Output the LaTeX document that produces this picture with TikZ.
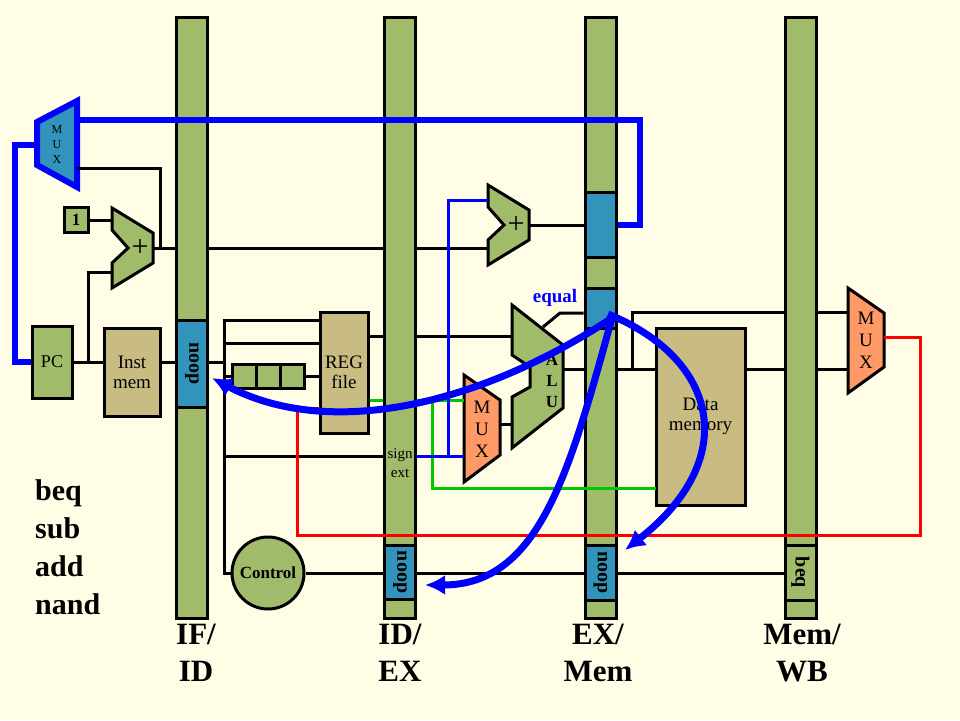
\documentclass[tikz,border=0pt]{standalone}
\usepackage{fontspec}
\setmainfont{Liberation Serif}
\usetikzlibrary{positioning, arrows.meta, calc}

\definecolor{bgyellow}{RGB}{255,253,230}
\definecolor{latchgreen}{RGB}{160,188,106}
\definecolor{boxblue}{RGB}{51,148,187}
\definecolor{memtan}{RGB}{200,188,130}
\definecolor{muxorange}{RGB}{255,153,102}
\definecolor{wireblue}{RGB}{0,0,255}
\definecolor{wirered}{RGB}{255,0,0}
\definecolor{wiregreen}{RGB}{0,200,0}

\begin{document}
\begin{tikzpicture}[x=1pt, y=-1pt,
        latch/.style={draw, line width=3pt, fill=latchgreen, minimum width=31pt, minimum height=601pt, anchor=north, inner sep=0pt},
        seg/.style={draw, line width=3pt, rotate=-90, minimum height=31pt, inner sep=0pt, font=\bfseries\fontsize{20}{20}\selectfont},
        unit/.style={draw, line width=3pt, inner sep=0pt, align=center, font=\fontsize{19}{20}\selectfont},
        part/.style={draw, line width=3pt},
        muxtext/.style={align=center, inner sep=0pt, font=\fontsize{19}{22}\selectfont},
        wire/.style={line width=3pt},
        gwire/.style={line width=3pt, wiregreen},
        bwire/.style={line width=3pt, wireblue},
        rwire/.style={line width=3pt, wirered},
        bus/.style={line width=6pt, wireblue},
        flush/.style={line width=7pt, wireblue, -{Latex[length=20pt, width=20pt]}},
        stage/.style={font=\bfseries\fontsize{31}{37}\selectfont, align=center, inner sep=0pt, anchor=north}]
    \path[use as bounding box, fill=bgyellow] (0,0) rectangle (960,720);

    % pipeline registers
    \node (ifid) [latch] at (192,16) {};
    \node (idex) [latch] at (400,16) {};
    \node (exmem) [latch] at (600.5,16) {};
    \node (memwb) [latch] at (800.5,16) {};
    \node (ifnoop) [seg, fill=boxblue, minimum width=87pt] at (192,363.5) {noop};
    \node (idnoop) [seg, fill=boxblue, minimum width=54pt] at (400,572) {noop};
    \node (exbr) [seg, fill=boxblue, minimum width=65pt] at (600.5,224.5) {};
    \node (exeq) [seg, fill=boxblue, minimum width=40pt] at (600.5,308) {};
    \node (exnoop) [seg, fill=boxblue, minimum width=55pt] at (600.5,572.5) {noop};
    \node (wbbeq) [seg, fill=latchgreen, minimum width=55pt] at (800.5,572.5) {beq};
    \node (sextlbl) [align=center, inner sep=0pt, font=\fontsize{15}{19}\selectfont] at (400,463.5) {sign\\ext};

    % fetch
    \node (pc) [unit, fill=latchgreen, minimum width=40pt, minimum height=72pt, font=\fontsize{18}{18}\selectfont] at (52,362) {PC};
    \node (imem) [unit, fill=memtan, minimum width=56pt, minimum height=88pt] at (132,372) {Inst\\mem};
    \node (one) [unit, fill=latchgreen, minimum width=24pt, minimum height=25pt, font=\bfseries\fontsize{17}{17}\selectfont] at (76,220) {1};
    \draw[part, fill=boxblue, draw=wireblue, line width=6pt] (37,122) -- (77,101) -- (77,187) -- (37,165) -- cycle;
    \node (mux0) [muxtext, font=\fontsize{12}{15}\selectfont] at (57,145) {M\\U\\X};
    \draw[part, fill=latchgreen] (112,208) -- (153,233) -- (153,263) -- (112,288) -- (112,263) -- (128,248) -- (112,230) -- cycle;
    \node (addif) [font=\fontsize{30}{30}\selectfont, inner sep=0pt] at (140,248) {+};

    % decode
    \node (regfile) [unit, fill=memtan, minimum width=48pt, minimum height=121pt] at (344,372.5) {REG\\file};
    \node (rc1) [unit, fill=latchgreen, minimum size=24pt] at (244,376) {};
    \node (rc2) [unit, fill=latchgreen, minimum size=24pt] at (268,376) {};
    \node (rc3) [unit, fill=latchgreen, minimum size=24pt] at (292,376) {};
    \node (control) [unit, circle, fill=latchgreen, minimum size=72pt, font=\bfseries\fontsize{17}{17}\selectfont] at (268,573) {Control};

    % execute
    \draw[part, fill=latchgreen] (488,185) -- (529,210) -- (529,240) -- (488,265) -- (488,240) -- (504,225) -- (488,207) -- cycle;
    \node (addex) [font=\fontsize{30}{30}\selectfont, inner sep=0pt] at (516,225) {+};
    \draw[part, fill=latchgreen] (512,305) -- (563,345) -- (563,408) -- (512,448) -- (512,397) -- (530,387) -- (530,367) -- (512,355) -- cycle;
    \node (alu) [muxtext, font=\bfseries\fontsize{17}{21}\selectfont] at (552,381) {A\\L\\U};
    \draw[part, fill=muxorange] (464,375) -- (500,400) -- (500,455) -- (464,482) -- cycle;
    \node (mux1) [muxtext] at (482,429) {M\\U\\X};

    % memory and write back
    \node (dmem) [unit, fill=memtan, minimum width=89pt, minimum height=177pt] at (700.5,416.5) {Data\\memory};
    \draw[part, fill=muxorange] (848,288) -- (884,313) -- (884,367) -- (848,393) -- cycle;
    \node (mux2) [muxtext] at (866,340) {M\\U\\X};

    \coordinate (mux0a) at (77,120);
    \coordinate (mux0b) at (77,168);
    \coordinate (mux0o) at (37,145);
    \coordinate (pcsplit) at (88,362);
    \coordinate (addifa) at (112,220);
    \coordinate (addifb) at (112,272);
    \coordinate (addifo) at (153,248);
    \coordinate (pcsel) at (160,248);
    \coordinate (idbus) at (224,362);
    \coordinate (rega) at (320,320);
    \coordinate (regb) at (320,343);
    \coordinate (regwr) at (320,408);
    \coordinate (rdata) at (368,336);
    \coordinate (sext) at (400,456);
    \coordinate (addexa) at (488,200);
    \coordinate (addexb) at (488,248);
    \coordinate (addexo) at (529,225);
    \coordinate (alua) at (512,336);
    \coordinate (alub) at (512,424);
    \coordinate (aluz) at (543,327);
    \coordinate (eq) at (560,313);
    \coordinate (aluo) at (563,369);
    \coordinate (mux1a) at (464,400);
    \coordinate (mux1b) at (464,456);
    \coordinate (mux1o) at (500,424);
    \coordinate (gsplit) at (432,400);
    \coordinate (bsplit) at (448,456);
    \coordinate (dmemw) at (656,488);
    \coordinate (fwsplit) at (632,369);
    \coordinate (mux2a) at (848,312);
    \coordinate (mux2b) at (848,369);
    \coordinate (mux2o) at (884,337);

    % black wires
    \draw[wire] (pc.east) -- (pc.east -| imem.west);
    \draw[wire] (pcsplit) |- (addifb);
    \draw[wire] (one.east) -- (addifa);
    \draw[wire] (addifo) -- (addifo -| ifid.west);
    \draw[wire] (pcsel) |- (mux0b);
    \draw[wire] (pc.east -| imem.east) -- (pc.east -| ifid.west);
    \draw[wire] (pc.east -| ifid.east) -- (idbus);
    \draw[wire] (rega) -| (idbus |- control.west) -- (control.west);
    \draw[wire] (regb) -- (regb -| idbus);
    \draw[wire] (idbus |- rc1.west) -- (rc1.west);
    \draw[wire] (rc3.east) -- (rc3.east -| regfile.west);
    \draw[wire] (idbus |- sext) -- (sext -| idex.west);
    \draw[wire] (rdata) -- (rdata -| idex.west);
    \draw[wire] (alua -| idex.east) -- (alua);
    \draw[wire] (addifo -| ifid.east) -- (addifo -| idex.west);
    \draw[wire] (addifo -| idex.east) -- (addexb);
    \draw[wire] (addexo) -- (addexo -| exmem.west);
    \draw[wire] (mux1o) -- (alub);
    \draw[wire] (aluz) -- (eq) -- (eq -| exmem.west);
    \draw[wire] (aluo) -- (aluo -| exmem.west);
    \draw[wire] (aluo -| exmem.east) -- (aluo -| dmem.west);
    \draw[wire] (fwsplit) |- (mux2a -| memwb.west);
    \draw[wire] (mux2a -| memwb.east) -- (mux2a);
    \draw[wire] (aluo -| dmem.east) -- (aluo -| memwb.west);
    \draw[wire] (aluo -| memwb.east) -- (mux2b);
    \draw[wire] (control.east) -- (control.east -| idex.west);
    \draw[wire] (control.east -| idex.east) -- (control.east -| exmem.west);
    \draw[wire] (control.east -| exmem.east) -- (control.east -| memwb.west);

    % coloured wires
    \draw[gwire] (regfile.east |- mux1a) -- (mux1a -| idex.west);
    \draw[gwire] (mux1a -| idex.east) -- (mux1a);
    \draw[gwire] (gsplit) |- (dmemw);
    \draw[bwire] (sext -| idex.east) -- (mux1b);
    \draw[bwire] (bsplit) |- (addexa);
    \draw[rwire] (regwr) -| (297,535) -| (920,337) -- (mux2o);
    \draw[bus] (mux0a) -- (640,120) |- (exmem.east |- addexo);
    \draw[bus] (mux0o) -- (15,145) |- (pc.west);

    % flush arrows
    \coordinate (fwd) at (612,318);
    \coordinate (flushif) at (212,378);
    \coordinate (flushid) at (425,585);
    \coordinate (flushex) at (625,550);
    \draw[flush] (fwd) .. controls (480,405) and (330,440) .. (flushif);
    \draw[flush] (fwd) .. controls (570,470) and (540,585) .. (flushid);
    \draw[flush] (608,314) .. controls (720,360) and (740,460) .. (flushex);

    \node (eqlbl) [font=\bfseries\fontsize{19}{19}\selectfont, text=wireblue, inner sep=0pt] at (555,298) {equal};
    \node (ops) [font=\bfseries\fontsize{30}{38}\selectfont, align=left, inner sep=0pt, anchor=north west] at (35,479.5) {beq\\sub\\add\\nand};
    \node (ifidlbl) [stage] at (196,624) {IF/\\ID};
    \node (idexlbl) [stage] at (400,624) {ID/\\EX};
    \node (exmemlbl) [stage] at (598,624) {EX/\\Mem};
    \node (memwblbl) [stage] at (802,624) {Mem/\\WB};
\end{tikzpicture}
\end{document}
